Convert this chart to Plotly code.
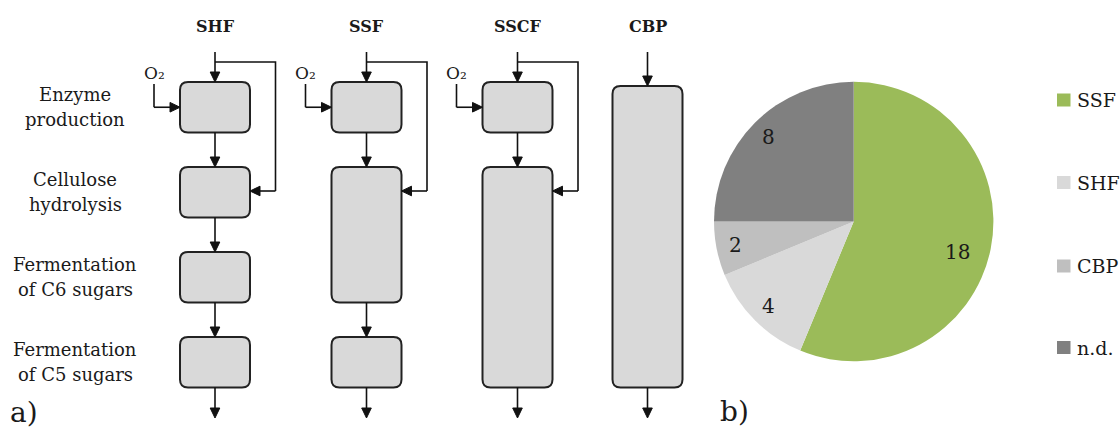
import plotly.graph_objects as go
import math

# ---------------- data ----------------
steps = ["Enzyme<br>production", "Cellulose<br>hydrolysis",
         "Fermentation<br>of C6 sugars", "Fermentation<br>of C5 sugars"]
processes = ["SHF", "SSF", "SSCF", "CBP"]
# which process steps are merged into one reactor (box) for each configuration
process_boxes = {
    "SHF": [[0], [1], [2], [3]],
    "SSF": [[0], [1, 2], [3]],
    "SSCF": [[0], [1, 2, 3]],
    "CBP": [[0, 1, 2, 3]],
}
pie_labels = ["SSF", "SHF", "CBP", "n.d."]
pie_values = [18, 4, 2, 8]
pie_colors = ["#9BBB59", "#D9D9D9", "#BFBFBF", "#808080"]

# ---------------- layout constants (pixels) ----------------
W, H = 1120, 429
FONT = "DejaVu Serif"
INK = "#111111"
col_x = {"SHF": 215, "SSF": 366.5, "SSCF": 517.5, "CBP": 647.5}
row_top = [82, 167, 252, 337]
box_h = 50.5
half_w = 35
title_y = 26
in_top = 52
fb_y = 62
fb_dx = 60.5
fb_target = 191
out_end = 418
label_x = 75
label_y = [107, 192, 277, 362]

shapes = []
annotations = []


def rrect(x0, y0, x1, y1, r=8):
    return (f"M{x0+r},{y0} L{x1-r},{y0} Q{x1},{y0} {x1},{y0+r} "
            f"L{x1},{y1-r} Q{x1},{y1} {x1-r},{y1} L{x0+r},{y1} "
            f"Q{x0},{y1} {x0},{y1-r} L{x0},{y0+r} Q{x0},{y0} {x0+r},{y0} Z")


def line(pts):
    p = "M" + " L".join(f"{x},{y}" for x, y in pts)
    shapes.append(dict(type="path", path=p, xref="x", yref="y",
                       line=dict(color=INK, width=1.6)))


def head(x, y, direction):
    L, w = 10, 4.8
    if direction == "down":
        pts = [(x, y), (x - w, y - L), (x + w, y - L)]
    elif direction == "left":
        pts = [(x, y), (x + L, y - w), (x + L, y + w)]
    else:  # right
        pts = [(x, y), (x - L, y - w), (x - L, y + w)]
    p = "M" + " L".join(f"{a},{b}" for a, b in pts) + " Z"
    shapes.append(dict(type="path", path=p, xref="x", yref="y",
                       fillcolor=INK, line=dict(color=INK, width=1)))


def arrow(pts, direction):
    x, y = pts[-1]
    if direction == "down":
        end = (x, y - 9)
    elif direction == "left":
        end = (x + 9, y)
    else:
        end = (x - 9, y)
    line(pts[:-1] + [end])
    head(x, y, direction)


def text(x, y, t, size, anchor="center", weight="normal"):
    annotations.append(dict(x=x, y=y, xref="x", yref="y", text=t, showarrow=False,
                            font=dict(family=FONT, size=size, color="#1a1a1a",
                                      weight=weight),
                            xanchor=anchor, yanchor="middle"))


# step labels
for s, yv in zip(steps, label_y):
    for k, t in enumerate(s.split("<br>")):
        text(label_x, yv - 12.5 + 25 * k, t, 18)

# process diagrams
for p in processes:
    cx = col_x[p]
    boxes = process_boxes[p]
    text(cx, title_y, p, 16, weight="bold")
    single = len(boxes) == 1
    prev_bottom = None
    for i, grp in enumerate(boxes):
        y0 = row_top[grp[0]] + (4 if single else 0)
        y1 = row_top[grp[-1]] + box_h
        shapes.append(dict(type="path", path=rrect(cx - half_w, y0, cx + half_w, y1),
                           xref="x", yref="y", fillcolor="#D9D9D9",
                           line=dict(color="#222222", width=2)))
        start = in_top if prev_bottom is None else prev_bottom
        arrow([(cx, start), (cx, y0)], "down")
        prev_bottom = y1
    arrow([(cx, prev_bottom), (cx, out_end)], "down")
    if not single:
        # enzyme recycle / feed to hydrolysis
        line([(cx, fb_y), (cx + fb_dx, fb_y), (cx + fb_dx, fb_target)])
        arrow([(cx + fb_dx, fb_target), (cx + half_w, fb_target)], "left")
        # oxygen supply
        ox = cx - 61
        mid = row_top[0] + box_h / 2
        line([(ox, 84), (ox, mid)])
        arrow([(ox, mid), (cx - half_w, mid)], "right")
        text(ox, 73, "O\u2082", 17)

# panel letters
text(8, 412, "a)", 28, anchor="left")
text(718, 411, "b)", 28, anchor="left")

# ---------------- pie ----------------
pcx, pcy, R = 853.7, 221.5, 139.7
fig = go.Figure()
fig.add_trace(go.Pie(labels=pie_labels, values=pie_values, sort=False,
                     direction="clockwise", rotation=0,
                     marker=dict(colors=pie_colors, line=dict(width=0)),
                     textinfo="none", hoverinfo="label+value", showlegend=False,
                     domain=dict(x=[(pcx - R) / W, (pcx + R) / W],
                                 y=[(H - pcy - R) / H, (H - pcy + R) / H])))

total = sum(pie_values)
cum = 0
for lab, v in zip(pie_labels, pie_values):
    frac = (cum + v / 2) / total
    th = 2 * math.pi * frac
    k = 0.76 if v / total > 0.5 else 0.86
    text(pcx + R * k * math.sin(th), pcy - R * k * math.cos(th) + (10 if v / total > 0.5 else 0),
         str(v), 20)
    cum += v

# legend
leg_y = [100, 182.5, 266, 347.5]
for lab, col, yv in zip(pie_labels, pie_colors, leg_y):
    shapes.append(dict(type="rect", xref="x", yref="y", x0=1057, x1=1070.5,
                       y0=yv - 6.5, y1=yv + 6.5, fillcolor=col, line=dict(width=0)))
    text(1075, yv, lab, 19, anchor="left")

fig.update_layout(
    width=W, height=H, margin=dict(l=0, r=0, t=0, b=0),
    paper_bgcolor="white", plot_bgcolor="white",
    xaxis=dict(range=[0, W], visible=False, fixedrange=True, domain=[0, 1]),
    yaxis=dict(range=[H, 0], visible=False, fixedrange=True, domain=[0, 1]),
    shapes=shapes, annotations=annotations, showlegend=False,
)
fig.write_html("out.html")
